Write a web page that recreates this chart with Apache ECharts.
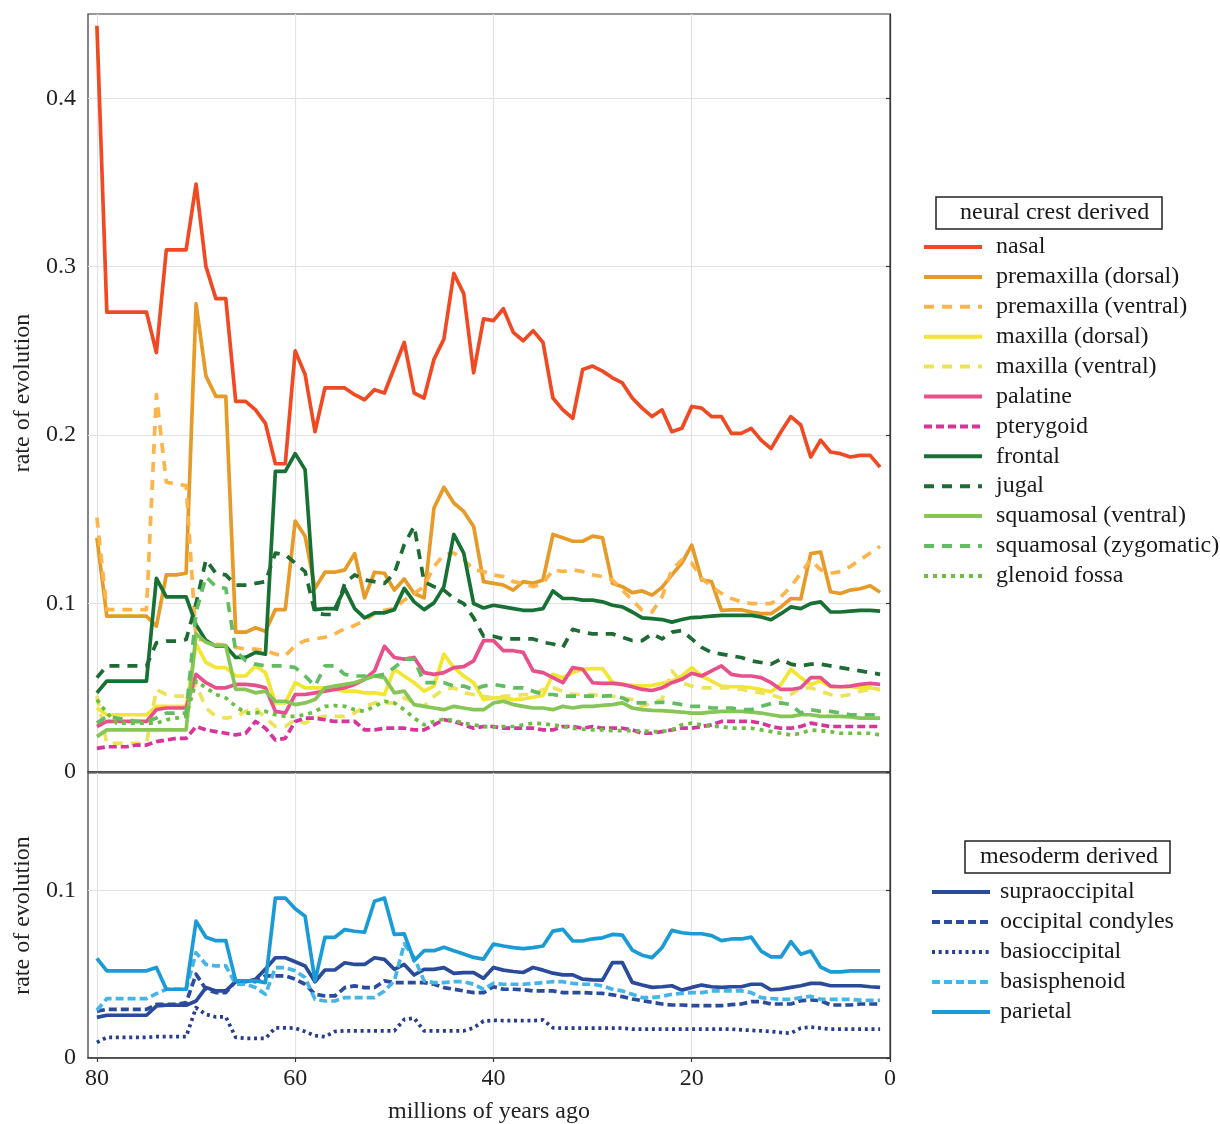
<!DOCTYPE html>
<html>
<head>
<meta charset="utf-8">
<script src="https://cdn.jsdelivr.net/npm/echarts@6/dist/echarts.min.js"></script>
<style>
	html, body { margin: 0; padding: 0; background: #fff; }
	#chart { width: 1220px; height: 1124px; }
</style>
</head>
<body>
<div id="chart"></div>
<script>
var ages = [80, 79, 78, 77, 76, 75, 74, 73, 72, 71, 70, 69, 68, 67, 66, 65, 64, 63, 62, 61,
	60, 59, 58, 57, 56, 55, 54, 53, 52, 51, 50, 49, 48, 47, 46, 45, 44, 43, 42, 41,
	40, 39, 38, 37, 36, 35, 34, 33, 32, 31, 30, 29, 28, 27, 26, 25, 24, 23, 22, 21,
	20, 19, 18, 17, 16, 15, 14, 13, 12, 11, 10, 9, 8, 7, 6, 5, 4, 3, 2, 1];

var xTicks = [0, 20, 40, 60, 80];
var yTicksTop = [0, 0.1, 0.2, 0.3, 0.4];
var yTicksBottom = [0, 0.1];

// neural crest derived
var nasal = [0.443, 0.273, 0.273, 0.273, 0.273, 0.273, 0.249, 0.310, 0.310, 0.310,
	0.349, 0.300, 0.281, 0.281, 0.220, 0.220, 0.215, 0.207, 0.183, 0.183,
	0.250, 0.236, 0.202, 0.228, 0.228, 0.228, 0.224, 0.221, 0.227, 0.225,
	0.240, 0.255, 0.225, 0.222, 0.245, 0.257, 0.296, 0.284, 0.237, 0.269,
	0.268, 0.275, 0.261, 0.256, 0.262, 0.255, 0.222, 0.215, 0.210, 0.239,
	0.241, 0.238, 0.234, 0.231, 0.222, 0.216, 0.211, 0.215, 0.202, 0.204,
	0.217, 0.216, 0.211, 0.211, 0.201, 0.201, 0.204, 0.197, 0.192, 0.202,
	0.211, 0.206, 0.187, 0.197, 0.190, 0.189, 0.187, 0.188, 0.188, 0.181];
var premaxDorsal = [0.139, 0.0925, 0.0925, 0.0925, 0.0925, 0.0925, 0.0866, 0.117, 0.117, 0.118,
	0.278, 0.235, 0.223, 0.223, 0.083, 0.083, 0.0856, 0.0836, 0.0964, 0.0964,
	0.149, 0.140, 0.109, 0.1186, 0.1186, 0.120, 0.1296, 0.1034, 0.1186, 0.118,
	0.108, 0.1146, 0.106, 0.1034, 0.1567, 0.169, 0.1597, 0.1547, 0.1458, 0.113,
	0.112, 0.111, 0.108, 0.113, 0.112, 0.114, 0.141, 0.139, 0.137, 0.137,
	0.140, 0.139, 0.112, 0.110, 0.1065, 0.1075, 0.105, 0.1096, 0.117, 0.124,
	0.1347, 0.114, 0.113, 0.096, 0.0963, 0.0963, 0.095, 0.094, 0.094, 0.098,
	0.103, 0.1027, 0.1296, 0.1306, 0.107, 0.106, 0.108, 0.1088, 0.1106, 0.1067];
var premaxVentral = [0.151, 0.0964, 0.0964, 0.0964, 0.0964, 0.0964, 0.224, 0.172, 0.171, 0.170,
	0.079, 0.078, 0.076, 0.075, 0.074, 0.073, 0.073, 0.072, 0.070, 0.069,
	0.075, 0.078, 0.079, 0.080, 0.082, 0.085, 0.087, 0.090, 0.094, 0.096,
	0.097, 0.102, 0.106, 0.110, 0.122, 0.129, 0.130, 0.126, 0.120, 0.119,
	0.117, 0.116, 0.113, 0.112, 0.110, 0.112, 0.120, 0.119, 0.120, 0.119,
	0.117, 0.116, 0.114, 0.108, 0.102, 0.096, 0.095, 0.104, 0.120, 0.126,
	0.124, 0.115, 0.110, 0.106, 0.103, 0.101, 0.100, 0.100, 0.100, 0.104,
	0.110, 0.118, 0.126, 0.120, 0.118, 0.119, 0.122, 0.126, 0.130, 0.134];
var maxDorsal = [0.038, 0.034, 0.034, 0.034, 0.034, 0.034, 0.039, 0.039, 0.039, 0.039,
	0.076, 0.065, 0.062, 0.062, 0.057, 0.057, 0.063, 0.059, 0.041, 0.041,
	0.053, 0.050, 0.050, 0.050, 0.049, 0.048, 0.048, 0.047, 0.047, 0.046,
	0.061, 0.057, 0.053, 0.048, 0.051, 0.070, 0.062, 0.057, 0.053, 0.043,
	0.044, 0.044, 0.043, 0.0434, 0.0444, 0.0454, 0.058, 0.056, 0.059, 0.061,
	0.0614, 0.0614, 0.0534, 0.052, 0.0514, 0.051, 0.0514, 0.0526, 0.054, 0.057,
	0.062, 0.057, 0.054, 0.051, 0.0506, 0.0506, 0.050, 0.049, 0.0476, 0.052,
	0.061, 0.056, 0.052, 0.054, 0.0506, 0.0506, 0.0506, 0.050, 0.050, 0.049];
var maxVentral = [0.045, 0.017, 0.017, 0.017, 0.017, 0.017, 0.049, 0.046, 0.045, 0.045,
	0.052, 0.038, 0.033, 0.032, 0.033, 0.036, 0.038, 0.032, 0.027, 0.027,
	0.031, 0.029, 0.032, 0.033, 0.033, 0.033, 0.035, 0.039, 0.041, 0.041,
	0.041, 0.044, 0.041, 0.039, 0.045, 0.049, 0.050, 0.047, 0.046, 0.045,
	0.044, 0.045, 0.045, 0.046, 0.046, 0.049, 0.050, 0.048, 0.046, 0.046,
	0.046, 0.045, 0.045, 0.044, 0.043, 0.039, 0.041, 0.043, 0.060, 0.053,
	0.051, 0.050, 0.050, 0.050, 0.050, 0.049, 0.048, 0.047, 0.046, 0.044,
	0.046, 0.050, 0.050, 0.048, 0.046, 0.045, 0.046, 0.048, 0.049, 0.049];
var palatine = [0.027, 0.030, 0.030, 0.030, 0.030, 0.030, 0.037, 0.038, 0.038, 0.038,
	0.058, 0.053, 0.050, 0.050, 0.052, 0.052, 0.0514, 0.050, 0.036, 0.035,
	0.046, 0.046, 0.047, 0.048, 0.049, 0.050, 0.052, 0.055, 0.060, 0.0746,
	0.068, 0.067, 0.068, 0.059, 0.058, 0.059, 0.062, 0.0626, 0.066, 0.078,
	0.078, 0.072, 0.072, 0.071, 0.060, 0.059, 0.056, 0.053, 0.062, 0.061,
	0.053, 0.0526, 0.0526, 0.052, 0.0506, 0.049, 0.0484, 0.050, 0.053, 0.055,
	0.0586, 0.057, 0.060, 0.063, 0.058, 0.057, 0.057, 0.056, 0.053, 0.049,
	0.049, 0.050, 0.056, 0.056, 0.051, 0.0506, 0.051, 0.052, 0.0526, 0.052];
var pterygoid = [0.014, 0.015, 0.015, 0.015, 0.016, 0.016, 0.018, 0.019, 0.020, 0.020,
	0.027, 0.025, 0.024, 0.023, 0.022, 0.023, 0.030, 0.026, 0.019, 0.020,
	0.030, 0.032, 0.032, 0.031, 0.030, 0.030, 0.030, 0.025, 0.025, 0.026,
	0.026, 0.026, 0.025, 0.025, 0.028, 0.031, 0.030, 0.028, 0.026, 0.027,
	0.027, 0.026, 0.026, 0.026, 0.026, 0.025, 0.025, 0.027, 0.027, 0.026,
	0.027, 0.026, 0.026, 0.026, 0.025, 0.023, 0.023, 0.024, 0.025, 0.026,
	0.026, 0.027, 0.028, 0.030, 0.030, 0.030, 0.030, 0.029, 0.027, 0.026,
	0.026, 0.027, 0.029, 0.028, 0.027, 0.027, 0.027, 0.027, 0.027, 0.027];
var frontal = [0.047, 0.054, 0.054, 0.054, 0.054, 0.054, 0.115, 0.104, 0.104, 0.104,
	0.0875, 0.078, 0.0747, 0.0747, 0.068, 0.068, 0.071, 0.070, 0.1785, 0.1785,
	0.189, 0.1795, 0.0964, 0.097, 0.097, 0.109, 0.097, 0.0915, 0.0945, 0.0945,
	0.0964, 0.109, 0.101, 0.0964, 0.1004, 0.110, 0.141, 0.130, 0.100, 0.0974,
	0.099, 0.098, 0.097, 0.096, 0.096, 0.097, 0.1075, 0.103, 0.103, 0.102,
	0.102, 0.101, 0.099, 0.098, 0.095, 0.0915, 0.091, 0.0905, 0.089, 0.0905,
	0.0917, 0.092, 0.0925, 0.093, 0.093, 0.093, 0.093, 0.092, 0.0904, 0.094,
	0.098, 0.097, 0.100, 0.101, 0.095, 0.095, 0.0955, 0.096, 0.096, 0.0955];
var jugal = [0.056, 0.063, 0.063, 0.063, 0.063, 0.063, 0.0767, 0.0777, 0.0777, 0.0787,
	0.100, 0.126, 0.118, 0.117, 0.111, 0.111, 0.112, 0.113, 0.130, 0.129,
	0.124, 0.119, 0.0945, 0.0935, 0.0935, 0.112, 0.117, 0.114, 0.113, 0.112,
	0.118, 0.135, 0.146, 0.113, 0.110, 0.108, 0.103, 0.100, 0.0915, 0.0806,
	0.0806, 0.079, 0.079, 0.079, 0.079, 0.077, 0.076, 0.074, 0.0847, 0.083,
	0.082, 0.082, 0.082, 0.080, 0.078, 0.078, 0.082, 0.079, 0.083, 0.084,
	0.079, 0.074, 0.071, 0.070, 0.069, 0.068, 0.066, 0.065, 0.064, 0.067,
	0.064, 0.063, 0.064, 0.064, 0.063, 0.062, 0.061, 0.060, 0.059, 0.058];
var squamVentral = [0.021, 0.025, 0.025, 0.025, 0.025, 0.025, 0.025, 0.025, 0.025, 0.025,
	0.082, 0.077, 0.075, 0.075, 0.049, 0.049, 0.047, 0.048, 0.042, 0.042,
	0.040, 0.041, 0.043, 0.050, 0.051, 0.052, 0.053, 0.055, 0.057, 0.056,
	0.047, 0.048, 0.040, 0.039, 0.038, 0.037, 0.039, 0.038, 0.037, 0.037,
	0.041, 0.042, 0.040, 0.039, 0.038, 0.038, 0.037, 0.039, 0.038, 0.039,
	0.039, 0.0396, 0.040, 0.041, 0.038, 0.037, 0.0366, 0.0364, 0.036, 0.0356,
	0.035, 0.035, 0.0355, 0.036, 0.036, 0.036, 0.0355, 0.035, 0.034, 0.033,
	0.033, 0.034, 0.034, 0.033, 0.033, 0.033, 0.0327, 0.032, 0.032, 0.032];
var squamZygomatic = [0.029, 0.033, 0.032, 0.031, 0.030, 0.030, 0.032, 0.035, 0.035, 0.035,
	0.095, 0.116, 0.110, 0.109, 0.072, 0.066, 0.064, 0.063, 0.063, 0.063,
	0.062, 0.057, 0.051, 0.063, 0.063, 0.058, 0.057, 0.057, 0.057, 0.058,
	0.062, 0.067, 0.067, 0.053, 0.053, 0.053, 0.051, 0.051, 0.049, 0.051,
	0.052, 0.051, 0.050, 0.050, 0.048, 0.046, 0.046, 0.045, 0.045, 0.045,
	0.045, 0.045, 0.0454, 0.044, 0.041, 0.041, 0.041, 0.0414, 0.041, 0.040,
	0.039, 0.039, 0.038, 0.038, 0.038, 0.037, 0.037, 0.039, 0.0406, 0.041,
	0.040, 0.035, 0.037, 0.036, 0.036, 0.035, 0.034, 0.034, 0.034, 0.034];
var glenoid = [0.043, 0.035, 0.029, 0.029, 0.029, 0.029, 0.029, 0.031, 0.032, 0.033,
	0.054, 0.050, 0.046, 0.044, 0.039, 0.035, 0.035, 0.036, 0.034, 0.033,
	0.033, 0.034, 0.036, 0.039, 0.0394, 0.039, 0.037, 0.036, 0.039, 0.042,
	0.041, 0.037, 0.032, 0.028, 0.030, 0.0314, 0.0306, 0.029, 0.028, 0.027,
	0.0266, 0.027, 0.027, 0.028, 0.029, 0.0286, 0.028, 0.027, 0.026, 0.0255,
	0.025, 0.025, 0.0246, 0.0246, 0.0246, 0.0243, 0.024, 0.024, 0.025, 0.028,
	0.029, 0.028, 0.027, 0.027, 0.026, 0.026, 0.026, 0.025, 0.024, 0.023,
	0.022, 0.023, 0.025, 0.0245, 0.024, 0.023, 0.023, 0.023, 0.023, 0.022];

// mesoderm derived
var supraoccipital = [0.0242, 0.0255, 0.0255, 0.0255, 0.0255, 0.0255, 0.031, 0.0315, 0.0315, 0.0315,
	0.034, 0.042, 0.040, 0.040, 0.0455, 0.0455, 0.047, 0.053, 0.0598, 0.0598,
	0.0574, 0.0549, 0.0455, 0.0525, 0.0525, 0.0568, 0.0558, 0.0558, 0.0598, 0.0588,
	0.0529, 0.0558, 0.0495, 0.0529, 0.0529, 0.0539, 0.0505, 0.0509, 0.0509, 0.0475,
	0.054, 0.0524, 0.0516, 0.051, 0.054, 0.0524, 0.0506, 0.0496, 0.0496, 0.047,
	0.0466, 0.0464, 0.0569, 0.0569, 0.0451, 0.0435, 0.0421, 0.0425, 0.0431, 0.0405,
	0.0421, 0.0435, 0.0425, 0.0421, 0.0425, 0.0425, 0.044, 0.044, 0.0407, 0.0411,
	0.0421, 0.0431, 0.0445, 0.0445, 0.0431, 0.0431, 0.0431, 0.0431, 0.0425, 0.0421];
var occCondyles = [0.028, 0.029, 0.029, 0.029, 0.029, 0.029, 0.032, 0.032, 0.032, 0.033,
	0.050, 0.041, 0.039, 0.039, 0.046, 0.046, 0.0455, 0.049, 0.049, 0.049,
	0.047, 0.044, 0.038, 0.037, 0.037, 0.042, 0.043, 0.042, 0.042, 0.046,
	0.045, 0.045, 0.045, 0.045, 0.044, 0.042, 0.041, 0.040, 0.039, 0.039,
	0.0425, 0.041, 0.041, 0.0407, 0.040, 0.040, 0.040, 0.039, 0.039, 0.039,
	0.0387, 0.0385, 0.0377, 0.0366, 0.0352, 0.0342, 0.0332, 0.0322, 0.0316, 0.0316,
	0.0312, 0.0312, 0.0312, 0.0312, 0.0318, 0.0322, 0.0336, 0.0336, 0.0322, 0.0322,
	0.0322, 0.0342, 0.0346, 0.0342, 0.0316, 0.0316, 0.0316, 0.0322, 0.0322, 0.0322];
var basioccipital = [0.0093, 0.0123, 0.0123, 0.0123, 0.0123, 0.0123, 0.0127, 0.0127, 0.0127, 0.0127,
	0.030, 0.026, 0.0245, 0.0245, 0.0123, 0.0117, 0.0117, 0.0117, 0.018, 0.018,
	0.0178, 0.0158, 0.0133, 0.0127, 0.0158, 0.0162, 0.0162, 0.0162, 0.0162, 0.0162,
	0.0162, 0.023, 0.0238, 0.0162, 0.0162, 0.0162, 0.0162, 0.0162, 0.018, 0.022,
	0.0225, 0.0223, 0.0223, 0.0223, 0.0223, 0.0227, 0.018, 0.0178, 0.0178, 0.0178,
	0.0178, 0.0178, 0.0178, 0.0178, 0.0172, 0.0172, 0.0172, 0.0172, 0.0172, 0.0172,
	0.0172, 0.0172, 0.0172, 0.0172, 0.0172, 0.0168, 0.0165, 0.0162, 0.0158, 0.0152,
	0.0148, 0.0178, 0.0184, 0.0178, 0.0172, 0.0172, 0.0172, 0.0172, 0.0172, 0.0172];
var basisphenoid = [0.0285, 0.0354, 0.0354, 0.0354, 0.0354, 0.0354, 0.0384, 0.041, 0.041, 0.041,
	0.0628, 0.0558, 0.0549, 0.0549, 0.044, 0.044, 0.042, 0.038, 0.0539, 0.0539,
	0.052, 0.048, 0.035, 0.034, 0.034, 0.036, 0.036, 0.036, 0.036, 0.040,
	0.046, 0.068, 0.060, 0.046, 0.045, 0.045, 0.0455, 0.0455, 0.044, 0.041,
	0.0445, 0.044, 0.044, 0.044, 0.0445, 0.045, 0.0455, 0.0455, 0.0445, 0.044,
	0.044, 0.043, 0.041, 0.040, 0.038, 0.036, 0.036, 0.0368, 0.038, 0.0385,
	0.039, 0.039, 0.040, 0.040, 0.040, 0.040, 0.039, 0.036, 0.0355, 0.035,
	0.035, 0.036, 0.0368, 0.035, 0.035, 0.035, 0.035, 0.0345, 0.0344, 0.0344];
var parietal = [0.0594, 0.052, 0.052, 0.052, 0.052, 0.052, 0.054, 0.041, 0.041, 0.041,
	0.0816, 0.072, 0.070, 0.070, 0.046, 0.046, 0.046, 0.045, 0.0954, 0.0954,
	0.089, 0.0846, 0.046, 0.072, 0.072, 0.0766, 0.0756, 0.075, 0.0935, 0.0954,
	0.0737, 0.074, 0.058, 0.064, 0.064, 0.066, 0.064, 0.062, 0.060, 0.059,
	0.068, 0.0668, 0.0658, 0.0652, 0.0658, 0.0668, 0.0757, 0.0767, 0.0698, 0.0698,
	0.0711, 0.0717, 0.0737, 0.0733, 0.0644, 0.0613, 0.0599, 0.0658, 0.0761, 0.0747,
	0.0741, 0.0741, 0.073, 0.070, 0.071, 0.071, 0.0721, 0.0638, 0.0603, 0.0603,
	0.0694, 0.0619, 0.0638, 0.0543, 0.0514, 0.0514, 0.052, 0.052, 0.052, 0.052];

var serif = 'Liberation Serif';
var dashed = [10, 8];
var shortDash = [8, 4];

function pairs(vals) {
	return vals.map(function(v, i) {
		return [ages[i], v];
	});
}

function line(name, vals, color, dash, panel) {
	return {
		name: name,
		type: 'line',
		xAxisIndex: panel,
		yAxisIndex: panel,
		data: pairs(vals),
		symbol: 'none',
		showSymbol: false,
		silent: true,
		lineStyle: {
			color: color,
			width: 3.7,
			type: dash,
			cap: 'butt',
			join: 'round'
		},
		itemStyle: {
			color: color
		}
	};
}

var neuralSeries = [
	line('nasal', nasal, '#F04A24', 'solid', 0),
	line('premaxilla (dorsal)', premaxDorsal, '#E69A28', 'solid', 0),
	line('premaxilla (ventral)', premaxVentral, '#FDB44B', dashed, 0),
	line('maxilla (dorsal)', maxDorsal, '#F2E632', 'solid', 0),
	line('maxilla (ventral)', maxVentral, '#ECE35A', dashed, 0),
	line('palatine', palatine, '#E8508C', 'solid', 0),
	line('pterygoid', pterygoid, '#D6369B', shortDash, 0),
	line('frontal', frontal, '#187134', 'solid', 0),
	line('jugal', jugal, '#1E6B34', dashed, 0),
	line('squamosal (ventral)', squamVentral, '#86C556', 'solid', 0),
	line('squamosal (zygomatic)', squamZygomatic, '#62BD62', dashed, 0),
	line('glenoid fossa', glenoid, '#6DBE45', [4, 5], 0)
];
var mesoSeries = [
	line('supraoccipital', supraoccipital, '#2A4A9A', 'solid', 1),
	line('occipital condyles', occCondyles, '#2B4C9C', shortDash, 1),
	line('basioccipital', basioccipital, '#283C8E', [3, 3.7], 1),
	line('basisphenoid', basisphenoid, '#45B4E6', shortDash, 1),
	line('parietal', parietal, '#1A9BD6', 'solid', 1)
];

function names(list) {
	return list.map(function(s) { return s.name; });
}

function xAxis(panel, showLabels) {
	return {
		type: 'value',
		gridIndex: panel,
		inverse: true,
		min: 0,
		max: 80.9,
		interval: 10,
		axisLine: { show: true, lineStyle: { color: '#333', width: 1.5 } },
		axisTick: {
			show: showLabels,
			customValues: xTicks,
			length: 4,
			lineStyle: { color: '#333', width: 1.2 }
		},
		axisLabel: {
			show: showLabels,
			customValues: xTicks,
			margin: 9,
			fontFamily: serif,
			fontSize: 24,
			color: '#222',
			formatter: function(v) { return v % 20 === 0 ? String(v) : ''; }
		},
		splitLine: { show: true, lineStyle: { color: '#e3e3e3', width: 1.2 } },
		name: showLabels ? 'millions of years ago' : '',
		nameLocation: 'middle',
		nameGap: 42,
		nameTextStyle: { fontFamily: serif, fontSize: 24, color: '#222' }
	};
}

function yAxis(panel, max, ticks) {
	return {
		type: 'value',
		gridIndex: panel,
		min: 0,
		max: max,
		interval: 0.05,
		axisLine: { show: true, lineStyle: { color: '#333', width: 1.2 } },
		axisTick: {
			show: true,
			customValues: ticks,
			length: 4,
			lineStyle: { color: '#333', width: 1.2 }
		},
		axisLabel: {
			customValues: ticks,
			margin: 12,
			fontFamily: serif,
			fontSize: 24,
			color: '#222',
			formatter: function(v) {
				var r = Math.round(v * 10) / 10;
				if (Math.abs(r - v) > 1e-6) return '';
				return r === 0 ? '0' : r.toFixed(1);
			}
		},
		splitLine: { show: true, lineStyle: { color: '#e3e3e3', width: 1.2 } },
		name: 'rate of evolution',
		nameLocation: 'middle',
		nameRotate: 90,
		nameGap: 53,
		nameTextStyle: { fontFamily: serif, fontSize: 24, color: '#222' }
	};
}

function legend(list, left, top, gap, textPad) {
	return {
		data: names(list),
		orient: 'vertical',
		left: left,
		top: top,
		padding: 0,
		itemWidth: 58,
		itemHeight: 14,
		itemGap: gap,
		selectedMode: false,
		// hide the marker dot that line series put in the middle of the key
		itemStyle: { opacity: 0, borderWidth: 0 },
		lineStyle: { width: 4 },
		textStyle: {
			fontFamily: serif,
			fontSize: 24,
			lineHeight: 24,
			color: '#1a1a1a',
			padding: [0, 0, 0, textPad]
		}
	};
}

function boxTitle(text, left, top, pad) {
	return {
		text: text,
		left: left,
		top: top,
		padding: pad,
		borderColor: '#222',
		borderWidth: 1.5,
		textStyle: {
			fontFamily: serif,
			fontWeight: 'normal',
			fontSize: 24,
			lineHeight: 24,
			color: '#1a1a1a'
		}
	};
}

var myChart = echarts.init(document.getElementById('chart'), null, { renderer: 'canvas' });

var option = {
	animation: false,
	backgroundColor: '#ffffff',
	title: [
		boxTitle('neural crest derived', 936, 197, [4, 13, 4, 24]),
		boxTitle('mesoderm derived', 965, 841, [4, 12, 4, 15])
	],
	legend: [
		legend(neuralSeries, 922, 235, 5.9, 9),
		legend(mesoSeries, 930, 880, 6, 5)
	],
	grid: [{
		left: 88, top: 14, width: 802, height: 758,
		show: true, borderColor: '#333', borderWidth: 1.2,
		containLabel: false, outerBoundsMode: 'none'
	}, {
		left: 88, top: 773, width: 802, height: 285,
		show: true, borderColor: '#333', borderWidth: 1.2,
		containLabel: false, outerBoundsMode: 'none'
	}],
	xAxis: [xAxis(0, false), xAxis(1, true)],
	yAxis: [yAxis(0, 0.45, yTicksTop), yAxis(1, 0.17, yTicksBottom)],
	series: neuralSeries.concat(mesoSeries)
};

myChart.setOption(option);

window.addEventListener('resize', function() {
	myChart.resize();
});
</script>
</body>
</html>
